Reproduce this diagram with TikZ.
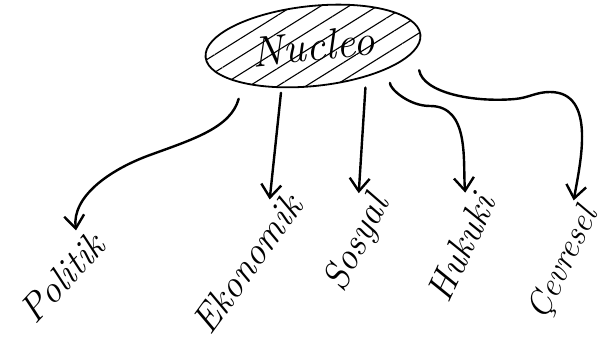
\documentclass[tikz,border=0pt]{standalone}
\usepackage{tikz}
\usetikzlibrary{arrows.meta,positioning,calc,shapes.geometric,patterns.meta}

\begin{document}
\begin{tikzpicture}[x=1pt,y=1pt,>={Straight Barb[length=13pt,width=20pt]}]
  \tikzstyle{aspect}=[font=\fontsize{38}{40}\selectfont\itshape,inner sep=1pt]
  \tikzstyle{branch}=[->,line width=2.4pt,line cap=round,shorten >=10pt]
  \useasboundingbox (0,0) rectangle (603,348);
  \node[draw,ellipse,line width=1.8pt,rotate=6,minimum width=216pt,minimum height=80pt,
    pattern={Lines[angle=32,distance=15pt,line width=1.1pt]},
    font=\fontsize{43}{46}\selectfont\itshape] (nucleo) at (313,302) {Nucleo};
  \node[aspect,rotate=47] (politik) at (62,70) {Politik};
  \node[aspect,rotate=54] (ekonomik) at (247,84) {Ekonomik};
  \node[aspect,rotate=63] (sosyal) at (358,104) {Sosyal};
  \node[aspect,rotate=65] (hukuki) at (461,100) {Hukuki};
  \node[aspect,rotate=64,font=\fontsize{34}{38}\selectfont\itshape] (cevresel) at (564,84) {Çevresel};
  \draw[branch,shorten <=16pt] (nucleo.202) to[out=255,in=20] (150,193) to[out=200,in=97] ($(politik.north)!.7!(politik.north east)$);
  \draw[branch,shorten <=5pt] (nucleo.227) -- ($(ekonomik.north)!.7!(ekonomik.north east)$);
  \draw[branch,shorten <=11pt] (nucleo.324) -- ($(sosyal.north)!.7!(sosyal.north east)$);
  \draw[branch,shorten <=16pt] (nucleo.339) to[out=265,in=180] (430,242) to[out=0,in=95] ($(hukuki.north)!.75!(hukuki.north east)$);
  \draw[branch,shorten <=21pt] (nucleo.352) to[out=280,in=185] (515,249) to[out=5,in=180] (550,256) to[out=0,in=80] ($(cevresel.north)!.85!(cevresel.north east)$);
\end{tikzpicture}
\end{document}
